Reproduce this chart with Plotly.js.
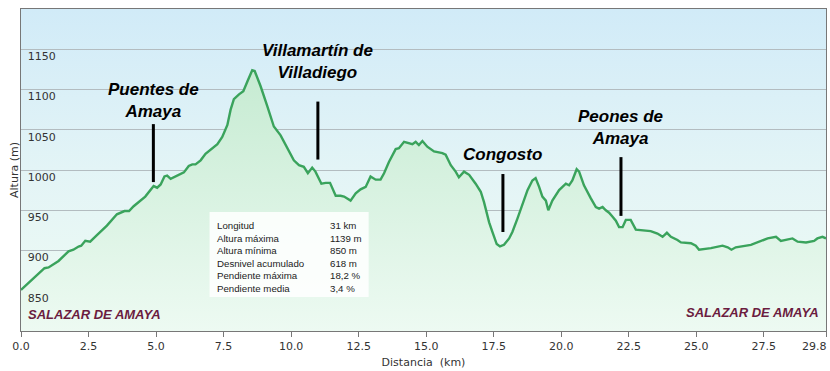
<!DOCTYPE html>
<html>
<head>
<meta charset="utf-8">
<script src="https://cdn.plot.ly/plotly-3.0.1.min.js"></script>
<style>
  html, body { margin: 0; padding: 0; background: #ffffff; }
  #chart { width: 830px; height: 371px; }
</style>
</head>
<body>
<div id="chart"></div>
<script>
// ---- Data ----
const distKm = [0, 0.28, 0.59, 0.87, 1.02, 1.39, 1.76, 1.94, 2.13, 2.23, 2.38, 2.56, 2.81, 3.18, 3.55, 3.83, 4.0, 4.17, 4.6, 4.82, 4.91, 5.04, 5.17, 5.31, 5.41, 5.54, 5.72, 6.03, 6.21, 6.34, 6.46, 6.65, 6.83, 7.08, 7.27, 7.45, 7.64, 7.76, 7.88, 8.07, 8.23, 8.38, 8.56, 8.65, 8.87, 9.12, 9.36, 9.61, 9.86, 10.1, 10.29, 10.47, 10.62, 10.78, 10.9, 11.03, 11.12, 11.28, 11.44, 11.65, 11.83, 11.96, 12.2, 12.39, 12.57, 12.76, 12.94, 13.13, 13.31, 13.44, 13.62, 13.87, 13.99, 14.18, 14.36, 14.49, 14.61, 14.73, 14.86, 15.04, 15.29, 15.6, 15.72, 15.91, 16.09, 16.21, 16.4, 16.59, 16.83, 17.02, 17.14, 17.33, 17.45, 17.61, 17.73, 17.88, 18.07, 18.19, 18.38, 18.56, 18.75, 18.93, 19.05, 19.18, 19.3, 19.43, 19.52, 19.67, 19.92, 20.17, 20.29, 20.41, 20.57, 20.66, 20.84, 21.09, 21.28, 21.4, 21.53, 21.65, 21.77, 21.9, 22.02, 22.14, 22.27, 22.39, 22.57, 22.76, 23.07, 23.31, 23.56, 23.75, 23.91, 24.06, 24.3, 24.43, 24.8, 24.98, 25.1, 25.54, 25.97, 26.16, 26.3, 26.46, 27.02, 27.33, 27.64, 27.95, 28.13, 28.56, 28.75, 29.06, 29.36, 29.48, 29.67, 29.8];
const altitudeM = [851, 860, 869, 878, 879, 887, 899, 901, 905, 906, 912, 911, 919, 931, 945, 949, 949, 955, 967, 977, 980, 978, 982, 992, 993, 989, 992, 997, 1005, 1007, 1007, 1012, 1020, 1027, 1032, 1041, 1056, 1075, 1088, 1094, 1098, 1110, 1124, 1123, 1104, 1079, 1054, 1043, 1028, 1012, 1006, 1004, 996, 1003, 998, 990, 983, 984, 984, 968, 968, 967, 962, 971, 976, 979, 992, 988, 988, 996, 1010, 1026, 1027, 1035, 1033, 1032, 1035, 1031, 1036, 1029, 1023, 1021, 1019, 1006, 998, 991, 998, 994, 983, 973, 960, 935, 923, 908, 905, 907, 915, 923, 940, 958, 975, 987, 990, 979, 967, 962, 950, 962, 975, 983, 981, 987, 1001, 998, 981, 965, 954, 952, 954, 950, 947, 942, 937, 929, 929, 938, 938, 926, 925, 924, 921, 917, 922, 917, 913, 910, 909, 906, 901, 903, 906, 904, 901, 904, 907, 911, 915, 917, 912, 915, 911, 910, 912, 915, 917, 915];

const xTickVals = [0, 2.5, 5, 7.5, 10, 12.5, 15, 17.5, 20, 22.5, 25, 27.5, 29.8];
const xTickText = ["0.0", "2.5", "5.0", "7.5", "10.0", "12.5", "15.0", "17.5", "20.0", "22.5", "25.0", "27.5", "29.8"];
const yTickVals = [850, 900, 950, 1000, 1050, 1100, 1150];

const placeNames = ["Puentes de<br>Amaya", "Villamartín de<br>Villadiego", "Congosto", "Peones de<br>Amaya"];
const placeKm = [4.9, 10.99, 17.84, 22.21];
const placeMarkTop = [1057, 1085, 995, 1016];
const placeMarkBottom = [985, 1013, 923, 943];

const startEndName = "SALAZAR DE AMAYA";

const statLabels = ["Longitud", "Altura máxima", "Altura mínima", "Desnivel acumulado", "Pendiente máxima", "Pendiente media"];
const statValues = ["31 km", "1139 m", "850 m", "618 m", "18,2 %", "3,4 %"];

// ---- Figure ----
const bgSvg = "<svg xmlns='http://www.w3.org/2000/svg' width='10' height='100' viewBox='0 0 10 100' preserveAspectRatio='none'>" +
  "<defs><linearGradient id='g' x1='0' y1='0' x2='0' y2='1'>" +
  "<stop offset='0' stop-color='#d1ebf8'/><stop offset='0.5' stop-color='#e3f4f6'/><stop offset='1' stop-color='#eefbf3'/>" +
  "</linearGradient></defs><rect width='10' height='100' fill='url(#g)'/></svg>";

const profile = {
  x: distKm,
  y: altitudeM,
  type: "scatter",
  mode: "lines",
  line: { color: "#3aa35c", width: 2.4 },
  fill: "tozeroy",
  fillgradient: {
    type: "vertical",
    start: 800,
    stop: 1125,
    colorscale: [[0, "rgb(237,250,242)"], [1, "rgb(198,235,210)"]]
  },
  hoverinfo: "skip",
  showlegend: false
};

const labelFont = { family: "'Liberation Sans', Arial, sans-serif", size: 17, color: "#000000", weight: "bold", style: "italic" };
const labelY = [1086, 1135, 1019, 1053];

const annotations = placeNames.map((name, i) => ({
  x: placeKm[i], y: labelY[i], xref: "x", yref: "y",
  text: name, showarrow: false, xanchor: "center", yanchor: "middle",
  font: labelFont, align: "center"
}));

const endFont = { family: "'Liberation Sans', Arial, sans-serif", size: 13, color: "#6b1c40", weight: "bold", style: "italic" };
annotations.push({
  x: 0, y: 820, xref: "paper", yref: "y", xanchor: "left", yanchor: "middle", xshift: 5,
  text: startEndName, showarrow: false, font: endFont
});
annotations.push({
  x: 1, y: 823.5, xref: "paper", yref: "y", xanchor: "right", yanchor: "middle", xshift: -5,
  text: startEndName, showarrow: false, font: endFont
});

const statFont = { family: "'Liberation Sans', Arial, sans-serif", size: 9.7, color: "#222222" };
annotations.push({
  x: 7.17, y: 891.4, xref: "x", yref: "y", xanchor: "left", yanchor: "middle",
  text: statLabels.join("<br>"), showarrow: false, align: "left", font: statFont
});
annotations.push({
  x: 11.38, y: 891.4, xref: "x", yref: "y", xanchor: "left", yanchor: "middle",
  text: statValues.join("<br>"), showarrow: false, align: "left", font: statFont
});

const tickFont = { family: "'DejaVu Sans', Verdana, sans-serif", size: 11, color: "#333333" };

// The last x tick label sits flush against the right edge of the chart, as in the reference
const lastTick = xTickText.length - 1;
const xTickTextShown = xTickText.map((t, i) => (i === lastTick ? "" : t));
annotations.push({
  x: 1, y: 0, xref: "paper", yref: "paper", xanchor: "right", yanchor: "middle",
  xshift: 3, yshift: -15,
  text: xTickText[lastTick], showarrow: false, font: tickFont
});

const shapes = [{
  type: "rect", xref: "x", yref: "y", x0: 6.98, x1: 12.87, y0: 842.2, y1: 947.8,
  fillcolor: "rgba(255,255,255,0.85)", line: { width: 0 }, layer: "above"
}];
placeKm.forEach((km, i) => {
  shapes.push({
    type: "line", xref: "x", yref: "y", x0: km, x1: km,
    y0: placeMarkBottom[i], y1: placeMarkTop[i],
    line: { color: "#000000", width: 3 }
  });
});

const layout = {
  width: 830,
  height: 371,
  margin: { l: 21, r: 4, t: 9, b: 40 },
  paper_bgcolor: "#ffffff",
  plot_bgcolor: "rgba(0,0,0,0)",
  showlegend: false,
  images: [{
    source: "data:image/svg+xml;charset=utf-8," + encodeURIComponent(bgSvg),
    xref: "paper", yref: "paper", x: 0, y: 1, sizex: 1, sizey: 1,
    xanchor: "left", yanchor: "top", sizing: "stretch", layer: "below"
  }],
  xaxis: {
    range: [0, 29.8],
    tickvals: xTickVals,
    ticktext: xTickTextShown,
    ticks: "outside",
    ticklen: 5,
    tickcolor: "#777777",
    showgrid: false,
    zeroline: false,
    showline: true,
    linecolor: "#777777",
    linewidth: 1,
    mirror: true,
    ticklabeloverflow: "allow",
    tickfont: tickFont,
    title: { text: "Distancia\u00a0\u00a0(km)", font: tickFont, standoff: 6 }
  },
  yaxis: {
    range: [800, 1200],
    tickvals: yTickVals,
    ticks: "",
    showgrid: true,
    gridcolor: "#b3bcc0",
    gridwidth: 1,
    zeroline: false,
    showline: true,
    linecolor: "#777777",
    linewidth: 1,
    mirror: true,
    ticklabelposition: "inside",
    ticklabeloverflow: "allow",
    ticklabelstandoff: 6,
    ticklabelshift: 7,
    tickfont: tickFont,
    title: { text: "Altura (m)", font: tickFont, standoff: 6 }
  },
  annotations: annotations,
  shapes: shapes
};

Plotly.newPlot("chart", [profile], layout, { displayModeBar: false, staticPlot: true });
</script>
</body>
</html>
